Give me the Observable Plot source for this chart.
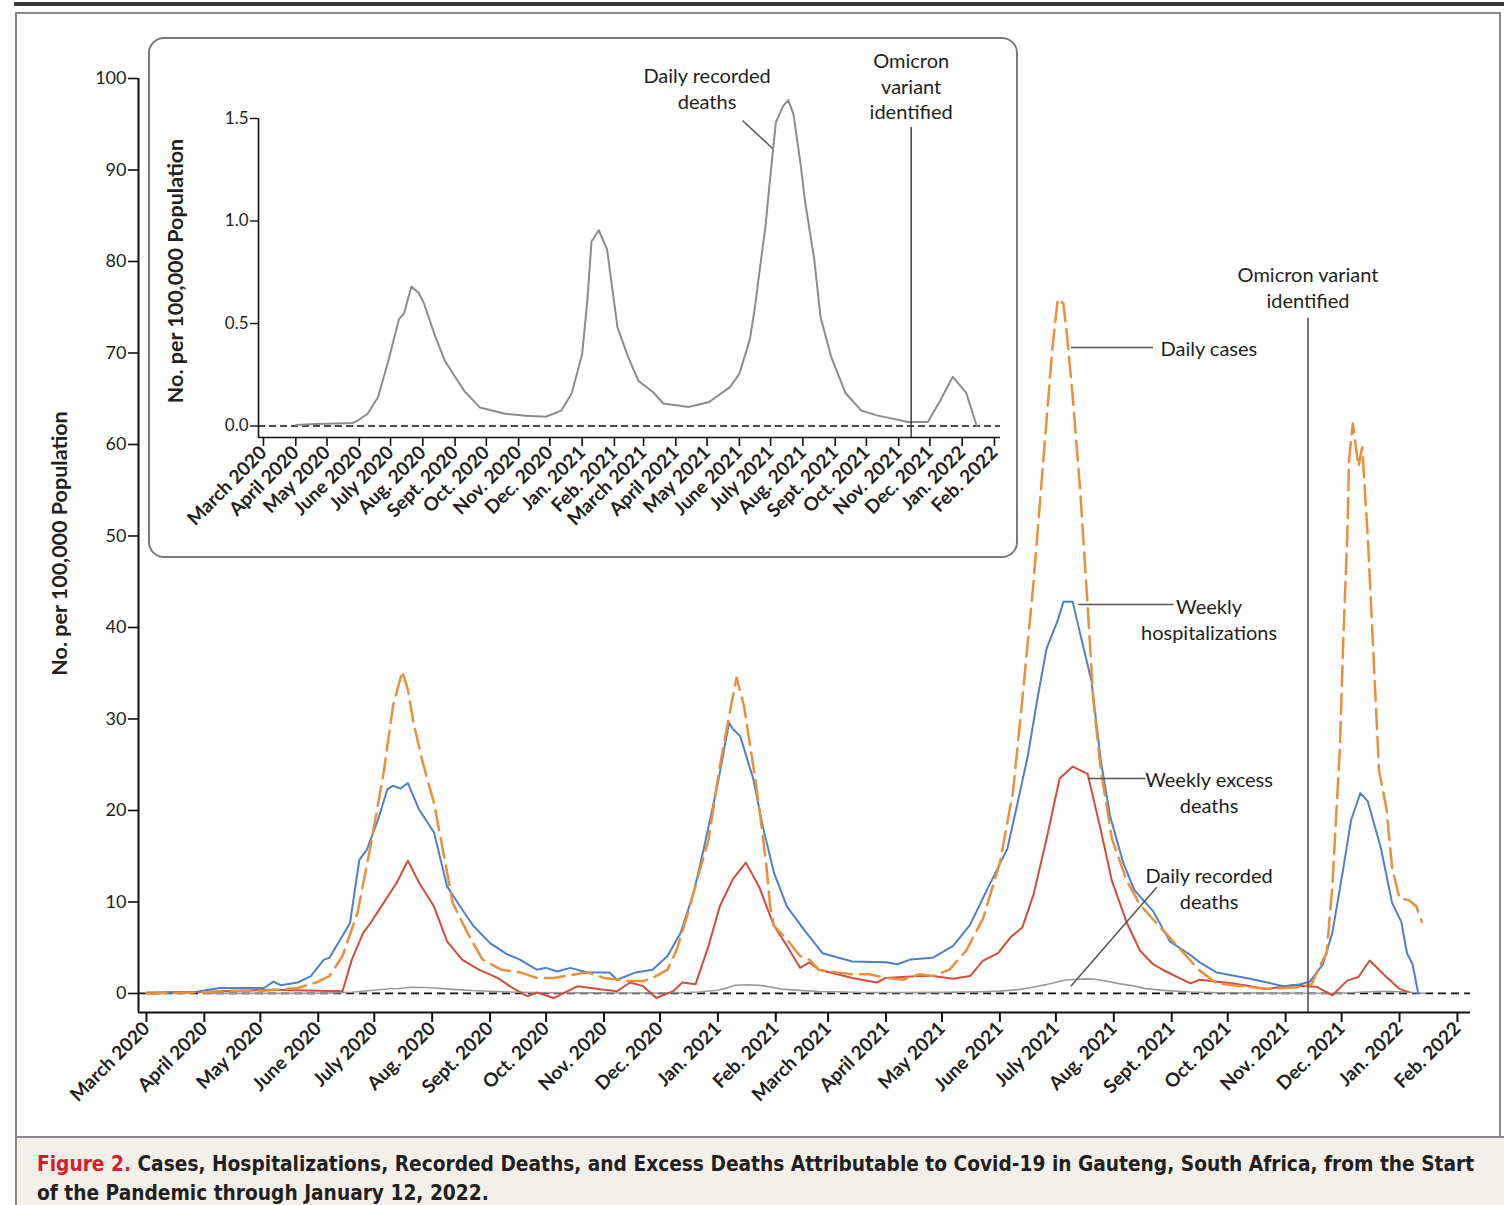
<!DOCTYPE html>
<html><head><meta charset="utf-8">
<script src="https://cdn.jsdelivr.net/npm/d3@7"></script>
<script src="https://cdn.jsdelivr.net/npm/@observablehq/plot@0.6"></script>
<style>
body{margin:0;background:#fff;}
#page{position:relative;width:1504px;height:1205px;overflow:hidden;font-family:Lato,sans-serif;}
#rule{position:absolute;left:14px;top:2px;width:1490px;height:4px;background:#3a3a3a;}
#frame{position:absolute;left:15px;top:12px;width:1486px;height:1126px;border:2px solid #8a8a8a;box-sizing:border-box;}
#main{position:absolute;left:0;top:0;}
#insetbox{position:absolute;left:148px;top:37px;width:870px;height:521px;border:2px solid #7a7a7a;border-radius:16px;background:#fff;box-sizing:border-box;}
#inset{position:absolute;left:148px;top:37px;}
#caption{position:absolute;left:15px;top:1136px;width:1489px;height:69px;background:#f3f0ea;border-top:2px solid #8a8a8a;border-left:2px solid #8a8a8a;box-sizing:border-box;padding:12px 0 0 20px;font-family:"DejaVu Sans Condensed","Liberation Sans Narrow",sans-serif;font-weight:bold;font-size:20.7px;line-height:29px;color:#231f20;white-space:nowrap;}
#caption .fig{color:#d3202e;}
</style></head>
<body>
<div id="page">
  <div id="rule"></div>
  <div id="frame"></div>
  <div id="main"></div>
  <div id="insetbox"></div>
  <div id="inset"></div>
  <div id="caption"><span class="fig">Figure 2.</span> Cases, Hospitalizations, Recorded Deaths, and Excess Deaths Attributable to Covid-19 in Gauteng, South Africa, from the Start<br>of the Pandemic through January 12, 2022.</div>
</div>
<script>
// ---------- data (No. per 100,000 population) ----------
const monthLabels = ["March 2020","April 2020","May 2020","June 2020","July 2020","Aug. 2020","Sept. 2020","Oct. 2020","Nov. 2020","Dec. 2020","Jan. 2021","Feb. 2021","March 2021","April 2021","May 2021","June 2021","July 2021","Aug. 2021","Sept. 2021","Oct. 2021","Nov. 2021","Dec. 2021","Jan. 2022","Feb. 2022"];

const dailyCases = [
["2020-03-01",0],["2020-03-28",0.1],["2020-04-15",0.3],["2020-05-03",0.3],["2020-05-21",0.6],["2020-05-31",1.2],
["2020-06-07",1.9],["2020-06-14",4.1],["2020-06-22",8.8],["2020-06-29",16.1],["2020-07-06",24.1],["2020-07-11",31.4],
["2020-07-16",35.2],["2020-07-19",33.2],["2020-07-22",29.6],["2020-07-27",25.2],["2020-08-02",20.8],["2020-08-07",15.4],
["2020-08-12",9.9],["2020-08-20",6.6],["2020-08-28",3.7],["2020-09-07",2.6],["2020-09-17",2.3],["2020-09-26",1.7],
["2020-10-05",1.7],["2020-10-23",2.3],["2020-11-01",1.7],["2020-11-15",1.35],["2020-11-22",1.35],["2020-11-27",1.7],
["2020-12-05",2.6],["2020-12-10",4.8],["2020-12-16",8.8],["2020-12-21",12.5],["2020-12-27",16.8],["2021-01-02",24.8],
["2021-01-08",31.4],["2021-01-11",34.5],["2021-01-15",31.4],["2021-01-20",24.8],["2021-01-23",20.5],["2021-01-27",13.9],
["2021-01-29",9.5],["2021-01-31",7.4],["2021-02-07",5.9],["2021-02-14",4.1],["2021-02-19",3.7],["2021-02-24",2.6],
["2021-03-06",2.3],["2021-03-14",2.1],["2021-03-23",2.1],["2021-04-01",1.7],["2021-04-10",1.5],["2021-04-19",2.1],
["2021-04-26",1.9],["2021-05-05",2.6],["2021-05-14",4.7],["2021-05-23",8.2],["2021-06-01",14.3],["2021-06-08",22],
["2021-06-13",32.1],["2021-06-19",44.9],["2021-06-22",52.5],["2021-06-26",62.7],["2021-06-29",70.3],["2021-07-02",75.9],
["2021-07-05",75.4],["2021-07-07",71.8],["2021-07-10",65.2],["2021-07-14",55],["2021-07-18",42.3],["2021-07-21",32.1],
["2021-07-25",24.5],["2021-07-31",16.9],["2021-08-08",12.3],["2021-08-15",9.7],["2021-08-26",7.2],["2021-09-04",5.2],
["2021-09-11",3.6],["2021-09-16",2.5],["2021-09-25",1.1],["2021-10-22",0.5],["2021-11-09",0.7],["2021-11-15",1],
["2021-11-19",2.9],["2021-11-23",4.4],["2021-11-26",11.7],["2021-11-30",26.5],["2021-12-02",39.3],["2021-12-04",49.9],
["2021-12-05",58.4],["2021-12-07",62.3],["2021-12-10",57.6],["2021-12-12",59.7],["2021-12-15",49.9],["2021-12-18",37.2],
["2021-12-21",24.4],["2021-12-25",20.2],["2021-12-28",13.8],["2022-01-01",10.4],["2022-01-06",10.2],["2022-01-10",9.5],
["2022-01-13",7.8]];

const weeklyHospitalizations = [
["2020-03-01",0.1],["2020-03-28",0.2],["2020-04-09",0.6],["2020-05-03",0.6],["2020-05-08",1.3],["2020-05-12",0.9],
["2020-05-21",1.2],["2020-05-28",1.9],["2020-06-04",3.7],["2020-06-07",3.9],["2020-06-14",6.3],["2020-06-18",7.7],
["2020-06-23",14.6],["2020-06-27",15.7],["2020-07-03",19],["2020-07-08",22.3],["2020-07-11",22.7],["2020-07-15",22.4],
["2020-07-19",23],["2020-07-25",20.1],["2020-08-02",17.6],["2020-08-09",11.7],["2020-08-16",9.5],["2020-08-23",7.4],
["2020-09-01",5.5],["2020-09-10",4.3],["2020-09-17",3.7],["2020-09-26",2.6],["2020-10-01",2.8],["2020-10-07",2.4],
["2020-10-14",2.8],["2020-10-23",2.3],["2020-11-04",2.3],["2020-11-08",1.5],["2020-11-18",2.3],["2020-11-27",2.6],
["2020-12-05",4.1],["2020-12-12",6.6],["2020-12-19",11],["2020-12-24",15.4],["2021-01-01",23],["2021-01-07",29.6],
["2021-01-09",28.9],["2021-01-13",28.1],["2021-01-20",23.4],["2021-01-25",18.3],["2021-01-31",13.2],["2021-02-07",9.5],
["2021-02-16",7],["2021-02-26",4.4],["2021-03-14",3.5],["2021-04-01",3.4],["2021-04-07",3.2],["2021-04-14",3.7],
["2021-04-26",3.9],["2021-05-07",5.2],["2021-05-16",7.5],["2021-05-25",11.3],["2021-06-05",15.8],["2021-06-10",20.4],
["2021-06-16",26],["2021-06-21",32.1],["2021-06-26",37.7],["2021-07-02",40.8],["2021-07-05",42.8],["2021-07-10",42.8],
["2021-07-14",39.3],["2021-07-20",34.2],["2021-07-25",25.5],["2021-07-30",19.4],["2021-08-06",14.3],["2021-08-12",11.3],
["2021-08-22",9],["2021-08-31",5.7],["2021-09-11",4.2],["2021-09-16",3.4],["2021-09-25",2.3],["2021-10-13",1.6],
["2021-10-31",0.8],["2021-11-09",1.0],["2021-11-14",1.3],["2021-11-21",3.2],["2021-11-26",6.6],["2021-12-02",13.8],
["2021-12-06",18.9],["2021-12-11",21.9],["2021-12-15",21],["2021-12-22",15.9],["2021-12-28",9.9],["2022-01-02",7.8],
["2022-01-05",4.4],["2022-01-08",3.2],["2022-01-11",0]];

const weeklyExcessDeaths = [
["2020-03-01",0],["2020-05-06",0.4],["2020-06-14",0.25],["2020-06-19",3.7],["2020-06-25",6.6],["2020-06-29",7.7],
["2020-07-06",9.9],["2020-07-13",12.1],["2020-07-19",14.5],["2020-07-25",12.1],["2020-08-02",9.5],["2020-08-09",5.7],
["2020-08-17",3.7],["2020-08-26",2.6],["2020-09-05",1.7],["2020-09-13",0.6],["2020-09-21",-0.3],["2020-09-26",0.1],
["2020-10-05",-0.5],["2020-10-18",0.8],["2020-11-01",0.4],["2020-11-08",0.25],["2020-11-15",1.2],["2020-11-22",0.8],
["2020-11-29",-0.5],["2020-12-08",0.25],["2020-12-13",1.2],["2020-12-20",1.0],["2020-12-27",5.2],["2021-01-02",9.5],
["2021-01-09",12.5],["2021-01-16",14.3],["2021-01-23",11.7],["2021-01-31",7.4],["2021-02-07",5.2],["2021-02-14",2.8],
["2021-02-19",3.4],["2021-02-24",2.6],["2021-03-06",2.1],["2021-03-14",1.7],["2021-03-27",1.2],["2021-04-01",1.7],
["2021-04-19",1.9],["2021-04-26",1.9],["2021-05-07",1.6],["2021-05-16",1.9],["2021-05-23",3.6],["2021-05-31",4.4],
["2021-06-07",6.2],["2021-06-13",7.2],["2021-06-19",10.8],["2021-06-26",16.9],["2021-07-03",23.5],["2021-07-10",24.8],
["2021-07-18",24],["2021-07-25",17.9],["2021-07-31",12.3],["2021-08-08",7.7],["2021-08-15",4.7],["2021-08-22",3.2],
["2021-08-29",2.4],["2021-09-06",1.6],["2021-09-11",1.1],["2021-09-16",1.5],["2021-10-04",1.1],["2021-10-22",0.5],
["2021-11-05",0.9],["2021-11-18",0.7],["2021-11-26",-0.2],["2021-12-04",1.4],["2021-12-10",1.8],["2021-12-16",3.6],
["2021-12-25",1.8],["2022-01-01",0.5],["2022-01-06",0.15]];

const dailyRecordedDeaths = [
["2020-04-01",0.005],["2020-04-20",0.01],["2020-05-10",0.012],["2020-05-26",0.015],["2020-05-31",0.028],["2020-06-09",0.06],
["2020-06-19",0.14],["2020-06-29",0.32],["2020-07-09",0.52],["2020-07-14",0.55],["2020-07-21",0.68],["2020-07-28",0.65],
["2020-08-02",0.6],["2020-08-12",0.45],["2020-08-22",0.32],["2020-09-01",0.24],["2020-09-10",0.17],["2020-09-25",0.09],
["2020-10-19",0.06],["2020-11-08",0.05],["2020-11-27",0.045],["2020-12-12",0.075],["2020-12-22",0.16],["2021-01-01",0.35],
["2021-01-06",0.61],["2021-01-10",0.9],["2021-01-17",0.955],["2021-01-25",0.86],["2021-02-04",0.48],["2021-02-14",0.34],
["2021-02-24",0.22],["2021-03-10",0.166],["2021-03-20",0.11],["2021-04-03",0.1],["2021-04-13",0.093],["2021-05-03",0.117],
["2021-05-23",0.19],["2021-06-01",0.255],["2021-06-11",0.42],["2021-06-16",0.58],["2021-06-21",0.78],["2021-06-26",0.97],
["2021-06-30",1.18],["2021-07-06",1.48],["2021-07-13",1.56],["2021-07-18",1.59],["2021-07-23",1.52],["2021-07-30",1.27],
["2021-08-03",1.1],["2021-08-12",0.81],["2021-08-18",0.53],["2021-08-28",0.34],["2021-09-11",0.16],["2021-09-26",0.076],
["2021-10-11",0.052],["2021-10-26",0.036],["2021-11-10",0.02],["2021-11-29",0.02],["2021-12-11",0.125],["2021-12-23",0.24],
["2022-01-05",0.16],["2022-01-15",0.0]];

const omicronDate = "2021-11-13";

// annotations: main chart
const mainLabelsStart = [
  {date:"2021-08-26", value:70.6, text:"Daily cases"}
];
const mainLabelsMiddle = [
  {date:"2021-09-21", value:41.0, text:"Weekly\nhospitalizations"},
  {date:"2021-09-21", value:22.1, text:"Weekly excess\ndeaths"},
  {date:"2021-09-21", value:11.6, text:"Daily recorded\ndeaths"},
  {date:"2021-11-13", value:77.3, text:"Omicron variant\nidentified"}
];
const mainLeaders = [
  {d1:"2021-07-09", v1:70.6, d2:"2021-08-22", v2:70.6},
  {d1:"2021-07-13", v1:42.5, d2:"2021-09-02", v2:42.5},
  {d1:"2021-07-18", v1:23.5, d2:"2021-08-18", v2:23.5},
  {d1:"2021-07-09", v1:0.8, d2:"2021-08-24", v2:11.6}
];
const insetLabels = [
  {date:"2021-05-01", value:1.651, text:"Daily recorded\ndeaths"},
  {date:"2021-11-13", value:1.661, text:"Omicron\nvariant\nidentified"}
];
const insetLeaders = [{d1:"2021-06-04", v1:1.49, d2:"2021-07-03", v2:1.354}];

// ---------- helpers ----------
const P = s => new Date(s + "T00:00:00Z");
const rows = arr => arr.map(([d, v]) => ({date: P(d), value: v}));
const monthTicks = d3.utcMonths(P("2020-03-01"), P("2022-02-02"));
const fmtMonth = d => monthLabels[d3.utcMonth.count(P("2020-03-01"), d)];
const ink = "#231f20";
const font = "Lato, 'Open Sans', sans-serif";

// ---------- main chart ----------
const xMain = [new Date("2020-02-25T18:00:00Z"), new Date("2022-02-08T00:00:00Z")];
const yMain = [-2.08, 100];
const main = Plot.plot({
  width: 1504, height: 1135,
  marginLeft: 138, marginRight: 34, marginTop: 78, marginBottom: 123,
  style: {background: "transparent", fontFamily: font, color: ink},
  x: {type: "utc", domain: xMain},
  y: {domain: yMain},
  marks: [
    Plot.ruleY([0], {stroke: "#111", strokeWidth: 1.8, strokeDasharray: "8,5"}),
    Plot.line(rows(dailyRecordedDeaths), {x: "date", y: "value", stroke: "#9a9a9a", strokeWidth: 1.6}),
    Plot.line(rows(weeklyExcessDeaths), {x: "date", y: "value", stroke: "#cf4f3b", strokeWidth: 2}),
    Plot.line(rows(weeklyHospitalizations), {x: "date", y: "value", stroke: "#4f80c8", strokeWidth: 2}),
    Plot.line(rows(dailyCases), {x: "date", y: "value", stroke: "#e8913a", strokeWidth: 2.5, strokeDasharray: "20,8"}),
    Plot.ruleX([{date: P(omicronDate), top: 73.8}], {x: "date", y1: () => yMain[0], y2: "top", stroke: "#555", strokeWidth: 1.6}),
    Plot.link(mainLeaders, {x1: d => P(d.d1), y1: "v1", x2: d => P(d.d2), y2: "v2", stroke: "#555", strokeWidth: 1.5}),
    Plot.text(mainLabelsStart, {x: d => P(d.date), y: "value", text: "text", textAnchor: "start", lineAnchor: "middle", fontSize: 20, lineHeight: 1.3, fill: ink}),
    Plot.text(mainLabelsMiddle, {x: d => P(d.date), y: "value", text: "text", textAnchor: "middle", lineAnchor: "middle", fontSize: 20, lineHeight: 1.3, fill: ink}),
    Plot.ruleX([xMain[0]], {stroke: "#111", strokeWidth: 2}),
    Plot.ruleY([yMain[0]], {stroke: "#111", strokeWidth: 2}),
    Plot.axisY({ticks: d3.range(0, 101, 10), tickSize: 10, tickPadding: 2, fontSize: 18, label: null, stroke: "#111", strokeWidth: 1.6, fill: ink}),
    Plot.axisX({ticks: monthTicks, tickFormat: fmtMonth, tickSize: 10, tickPadding: 3, tickRotate: -45, fontSize: 19, fontWeight: "bold", label: null, stroke: "#111", strokeWidth: 2, fill: ink}),
    Plot.text(["No. per 100,000 Population"], {text: d => d, frameAnchor: "left", textAnchor: "middle", dx: -78, dy: -2, rotate: -90, fontSize: 21.5, fontWeight: "bold", fill: ink})
  ]
});
document.getElementById("main").append(main);

// ---------- inset chart ----------
const xInset = [new Date("2020-02-25T05:00:00Z"), new Date("2022-02-06T19:00:00Z")];
const yInset = [-0.056, 1.5];
const inset = Plot.plot({
  width: 870, height: 521,
  marginLeft: 110, marginRight: 18, marginTop: 81, marginBottom: 121,
  style: {background: "transparent", fontFamily: font, color: ink},
  x: {type: "utc", domain: xInset},
  y: {domain: yInset},
  marks: [
    Plot.ruleY([0], {stroke: "#111", strokeWidth: 1.6, strokeDasharray: "7,4"}),
    Plot.line(rows(dailyRecordedDeaths), {x: "date", y: "value", stroke: "#8c8c8c", strokeWidth: 2}),
    Plot.ruleX([{date: P(omicronDate), top: 1.456}], {x: "date", y1: () => yInset[0], y2: "top", stroke: "#333", strokeWidth: 1.4}),
    Plot.link(insetLeaders, {x1: d => P(d.d1), y1: "v1", x2: d => P(d.d2), y2: "v2", stroke: "#555", strokeWidth: 1.5}),
    Plot.text(insetLabels, {x: d => P(d.date), y: "value", text: "text", textAnchor: "middle", lineAnchor: "middle", fontSize: 20, lineHeight: 1.28, fill: ink}),
    Plot.ruleX([xInset[0]], {stroke: "#111", strokeWidth: 1.6}),
    Plot.ruleY([yInset[0]], {stroke: "#111", strokeWidth: 1.6}),
    Plot.axisY({ticks: [0, 0.5, 1, 1.5], tickFormat: d3.format(".1f"), tickSize: 8, tickPadding: 2, fontSize: 17, label: null, stroke: "#111", strokeWidth: 1.4, fill: ink}),
    Plot.axisX({ticks: monthTicks, tickFormat: fmtMonth, tickSize: 9, tickPadding: 3, tickRotate: -45, fontSize: 19, fontWeight: "bold", label: null, stroke: "#111", strokeWidth: 1.6, fill: ink}),
    Plot.text(["No. per 100,000 Population"], {text: d => d, frameAnchor: "left", textAnchor: "middle", dx: -82, dy: -7, rotate: -90, fontSize: 21.5, fontWeight: "bold", fill: ink})
  ]
});
document.getElementById("inset").append(inset);
</script>
</body></html>
